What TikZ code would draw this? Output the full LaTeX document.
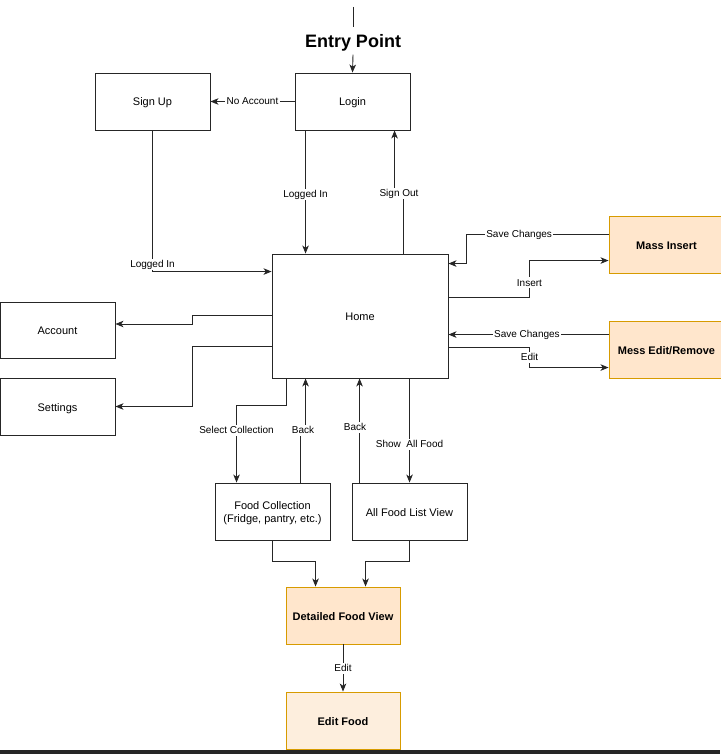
\documentclass[tikz,border=0pt]{standalone}
\usepackage{fontspec}
\setmainfont{Liberation Sans}
\usetikzlibrary{arrows.meta,calc}
\definecolor{ofill}{HTML}{FFE6CC}
\definecolor{ofill2}{HTML}{FDEEDD}
\definecolor{ostroke}{HTML}{D79B00}
\definecolor{bar}{HTML}{262626}
\tikzset{
  box/.style={draw=black!85, line width=0.9pt, fill=white, minimum width=115pt, minimum height=57pt, inner sep=0pt, align=center, text height=9pt, text depth=0pt, font=\fontsize{11}{13}\selectfont},
  obox/.style={box, draw=ostroke, fill=ofill, font=\fontsize{11}{13}\selectfont\bfseries},
  lbl/.style={fill=white, inner sep=1.5pt, text height=7.4pt, text depth=0.6pt, font=\fontsize{10}{12}\selectfont},
  arr/.style={draw=black!85, line width=0.9pt, -{Stealth[length=8pt,width=6.5pt,inset=2.2pt]}},
  ln/.style={draw=black!85, line width=0.9pt}
}
\begin{document}
\begin{tikzpicture}[x=1pt,y=-1pt]
\useasboundingbox (0,0) rectangle (720,754);
\fill[white] (0,0) rectangle (720,754);
% nodes
\node[box] (login) at (352.5,101.5) {Login};
\node[box] (signup) at (152.5,101.5) {Sign Up};
\node[box, minimum width=176pt, minimum height=124pt] (home) at (360,316) {Home};
\node[box, minimum height=56pt] (account) at (57.5,330) {Account};
\node[box] (settings) at (57.5,406.5) {Settings};
\node[obox] (massins) at (666.5,244.5) {Mass Insert};
\node[obox] (messedit) at (666.5,349.5) {Mess Edit/Remove};
\node[box, text height=22pt] (foodcoll) at (272.5,511.5) {Food Collection\\(Fridge, pantry, etc.)};
\node[box] (allfood) at (409.5,511.5) {All Food List View};
\node[obox, minimum width=114pt] (detailed) at (343,615.5) {Detailed Food View};
\node[obox, fill=ofill2, minimum width=114pt] (editfood) at (343,720.5) {Edit Food};
\node[inner sep=0pt, minimum height=27pt, text height=13pt, text depth=0pt, font=\fontsize{18}{20}\selectfont\bfseries] (entry) at (353,41) {Entry Point};
\coordinate (entrytop) at (353,7);
% connectors
\draw[ln] (entrytop) -- (entry.north);
\draw[arr] (entry.south) -- (login.north);
\draw[arr] (login.west) -- node[lbl]{No Account} (signup.east);
\draw[arr] ([xshift=11pt]login.south west) -- node[lbl,pos=0.52]{Logged In} ([xshift=34pt]home.north west);
\draw[arr] ([xshift=132pt]home.north west) -- ++(0,-61) -- ++(-9,0) -- ([xshift=100pt]login.south west);
\node[lbl] (lsignout) at (399,193) {Sign Out};
\draw[arr] (signup.south) |- node[lbl,pos=0.475]{Logged In} ([yshift=-18pt]home.north west);
\draw[arr] ([yshift=-62pt]home.north west) -- ++(-79,0) |- ([yshift=6pt]account.east);
\draw[arr] ([yshift=-93pt]home.north west) -- ++(-79,0) |- (settings.east);
\draw[arr] ([xshift=15pt]home.south west) -- ++(0,27) -| node[lbl,pos=0.66]{Select Collection} ([xshift=22pt]foodcoll.north west);
\draw[arr] ([xshift=86pt]foodcoll.north west) -- ++(0,-53) -- ++(5,0) -- ([xshift=34pt]home.south west);
\node[lbl] (lback1) at (303,430) {Back};
\draw[arr] ([xshift=8pt]allfood.north west) -- ([xshift=88pt]home.south west);
\node[lbl] (lback2) at (355,427) {Back};
\draw[arr] ([xshift=138pt]home.south west) -- node[lbl,pos=0.63]{Show\ \ All Food} ([xshift=58pt]allfood.north west);
\draw[arr] ([yshift=-44pt]home.north east) -- ++(81,0) |- node[lbl,pos=0.2]{Insert} ([yshift=-45pt]massins.north west);
\draw[arr] ([yshift=-19pt]massins.north west) -- node[lbl,pos=0.63]{Save Changes} ++(-142,0) |- ([yshift=-10pt]home.north east);
\draw[arr] ([yshift=-14pt]messedit.north west) -- node[lbl,pos=0.51]{Save Changes} ([yshift=-81pt]home.north east);
\draw[arr] ([yshift=-94pt]home.north east) -- ++(81,0) |- node[lbl,pos=0.25]{Edit} ([yshift=-47pt]messedit.north west);
\draw[arr] (foodcoll.south) -- ++(0,21) -| ([xshift=30pt]detailed.north west);
\draw[arr] (allfood.south) -- ++(0,21) -| ([xshift=80pt]detailed.north west);
\draw[arr] (detailed.south) -- node[lbl]{Edit} (editfood.north);
% bottom bar
\fill[bar] (0,750) rectangle (720,754);
\end{tikzpicture}
\end{document}
